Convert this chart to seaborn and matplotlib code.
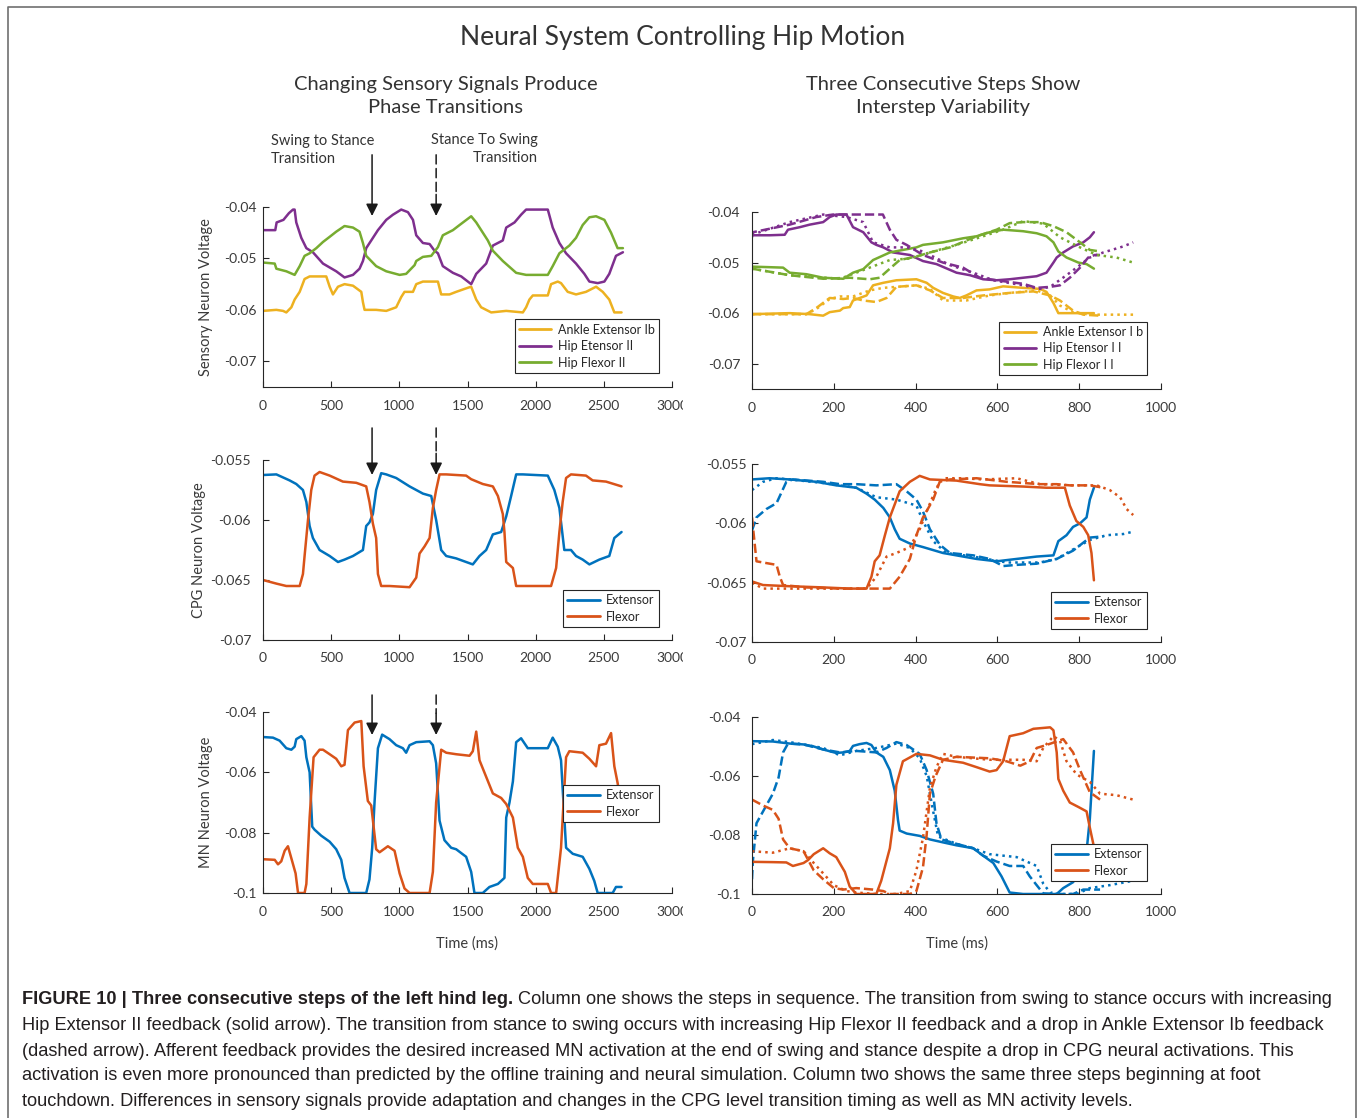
import numpy as np
import matplotlib
matplotlib.use("Agg")
import matplotlib.pyplot as plt
import seaborn as sns
from matplotlib.lines import Line2D
from matplotlib.transforms import Bbox

# --- colores MATLAB ---
C_YEL = "#EDB120"
C_PUR = "#7E2F8E"
C_GRN = "#77AC30"
C_BLU = "#0072BD"
C_ORA = "#D95319"

# ================= DATOS =================
# Columna 1, sensorial
L1_ANKLE = [(0,-0.0602),(98,-0.0600),(147,-0.0602),(171,-0.0605),(208,-0.0595),(232,-0.0580),(269,-0.0565),
            (305,-0.0540),(342,-0.0535),(464,-0.0535),(489,-0.0555),(513,-0.0570),(550,-0.0555),(598,-0.0550),
            (660,-0.0553),(721,-0.0565),(733,-0.0585),(745,-0.0600),(830,-0.0600),(904,-0.0602),(977,-0.0595),
            (1014,-0.0575),(1038,-0.0565),(1100,-0.0565),(1124,-0.0550),(1173,-0.0545),(1283,-0.0545),(1307,-0.0570),
            (1368,-0.0570),(1417,-0.0565),(1503,-0.0557),(1527,-0.0555),(1564,-0.0580),(1600,-0.0595),(1674,-0.0605),
            (1784,-0.0602),(1906,-0.0605),(1930,-0.0595),(1954,-0.0580),(1979,-0.0572),(2089,-0.0572),(2113,-0.0550),
            (2162,-0.0545),(2186,-0.0548),(2235,-0.0565),(2296,-0.0570),(2369,-0.0565),(2443,-0.0555),(2492,-0.0565),
            (2540,-0.0580),(2577,-0.0605),(2630,-0.0605)]
L1_HIPEXT = [(0,-0.0445),(90,-0.0445),(100,-0.0430),(150,-0.0425),(190,-0.0412),(220,-0.0405),(232,-0.0405),
             (244,-0.0430),(281,-0.0460),(318,-0.0480),(366,-0.0488),(440,-0.0510),(537,-0.0525),(598,-0.0537),
             (660,-0.0532),(708,-0.0520),(733,-0.0505),(757,-0.0480),(794,-0.0465),(843,-0.0445),(904,-0.0425),
             (953,-0.0415),(1014,-0.0405),(1063,-0.0410),(1100,-0.0425),(1124,-0.0455),(1173,-0.0470),(1222,-0.0472),
             (1258,-0.0485),(1283,-0.0490),(1319,-0.0515),(1393,-0.0528),(1454,-0.0535),(1527,-0.0550),(1564,-0.0530),
             (1637,-0.0510),(1686,-0.0475),(1759,-0.0465),(1784,-0.0440),(1845,-0.0430),(1893,-0.0415),(1930,-0.0405),
             (2089,-0.0405),(2125,-0.0440),(2174,-0.0470),(2223,-0.0490),(2296,-0.0510),(2357,-0.0530),(2394,-0.0545),
             (2455,-0.0548),(2504,-0.0545),(2540,-0.0530),(2589,-0.0495),(2640,-0.0488)]
L1_HIPFLX = [(0,-0.0508),(86,-0.0510),(98,-0.0520),(171,-0.0525),(232,-0.0532),(269,-0.0515),(305,-0.0495),
             (342,-0.0490),(391,-0.0480),(440,-0.0468),(489,-0.0458),(537,-0.0448),(598,-0.0437),(660,-0.0440),
             (708,-0.0448),(733,-0.0470),(757,-0.0495),(830,-0.0515),(904,-0.0525),(1002,-0.0532),(1050,-0.0530),
             (1112,-0.0513),(1124,-0.0505),(1173,-0.0497),(1234,-0.0495),(1283,-0.0478),(1319,-0.0455),(1393,-0.0445),
             (1442,-0.0435),(1527,-0.0418),(1564,-0.0430),(1649,-0.0465),(1686,-0.0485),(1759,-0.0505),(1857,-0.0528),
             (1930,-0.0532),(2089,-0.0532),(2125,-0.0515),(2174,-0.0490),(2247,-0.0475),(2296,-0.0460),(2345,-0.0435),
             (2394,-0.0420),(2443,-0.0418),(2504,-0.0425),(2553,-0.0450),(2601,-0.0480),(2640,-0.0480)]
# Columna 1, CPG
L2_EXT = [(0,-0.05625),(98,-0.0562),(195,-0.0567),(244,-0.0570),(293,-0.0575),(318,-0.0585),(342,-0.0605),
          (366,-0.0615),(415,-0.0625),(489,-0.0630),(550,-0.0635),(598,-0.0633),(660,-0.0630),(733,-0.0625),
          (757,-0.0605),(781,-0.0602),(806,-0.0595),(830,-0.0575),(867,-0.0561),(904,-0.0562),(977,-0.0565),
          (1075,-0.0572),(1173,-0.0578),(1234,-0.0580),(1270,-0.0600),(1307,-0.0625),(1344,-0.0630),(1417,-0.0632),
          (1490,-0.0635),(1539,-0.0637),(1588,-0.0630),(1637,-0.0625),(1686,-0.0612),(1747,-0.0610),(1784,-0.0597),
          (1820,-0.0580),(1857,-0.0562),(1906,-0.0562),(2089,-0.0563),(2137,-0.0575),(2174,-0.0590),(2210,-0.0625),
          (2259,-0.0625),(2296,-0.0630),(2345,-0.0633),(2394,-0.0637),(2467,-0.0633),(2540,-0.0630),(2577,-0.0615),
          (2630,-0.0610)]
L2_FLX = [(0,-0.0650),(98,-0.0653),(171,-0.0655),(269,-0.0655),(293,-0.0645),(305,-0.0630),(330,-0.0600),
          (354,-0.0575),(378,-0.0563),(415,-0.0560),(489,-0.0563),(586,-0.0568),(684,-0.0569),(757,-0.0572),
          (781,-0.0585),(806,-0.0603),(830,-0.0615),(843,-0.0645),(867,-0.0655),(928,-0.0655),(1075,-0.0656),
          (1124,-0.0648),(1148,-0.0628),(1185,-0.0622),(1222,-0.0615),(1246,-0.0590),(1270,-0.0575),(1295,-0.0562),
          (1344,-0.0562),(1490,-0.0563),(1527,-0.0566),(1612,-0.0570),(1686,-0.0572),(1723,-0.0580),(1759,-0.0595),
          (1771,-0.0610),(1784,-0.0635),(1833,-0.0640),(1857,-0.0655),(1906,-0.0655),(2113,-0.0655),(2150,-0.0640),
          (2174,-0.0610),(2198,-0.0585),(2223,-0.0565),(2259,-0.0562),(2369,-0.0563),(2418,-0.0567),(2516,-0.0568),
          (2630,-0.0572)]
# Columna 1, MN
L3_EXT = [(0,-0.0483),(73,-0.0485),(122,-0.0495),(171,-0.0520),(208,-0.0525),(232,-0.0515),(244,-0.0490),
          (281,-0.0480),(305,-0.0495),(318,-0.0550),(342,-0.0600),(361,-0.0780),(378,-0.0790),(427,-0.0810),
          (489,-0.0830),(537,-0.0855),(574,-0.0890),(598,-0.0950),(635,-0.1000),(757,-0.1000),(781,-0.0955),
          (801,-0.0850),(818,-0.0700),(843,-0.0520),(874,-0.0475),(928,-0.0490),(977,-0.0510),(1026,-0.0520),
          (1050,-0.0535),(1075,-0.0510),(1124,-0.0500),(1222,-0.0497),(1246,-0.0510),(1270,-0.0570),(1295,-0.0760),
          (1331,-0.0825),(1380,-0.0850),(1417,-0.0855),(1490,-0.0880),(1527,-0.0930),(1551,-0.1000),(1612,-0.1000),
          (1661,-0.0980),(1723,-0.0970),(1771,-0.0950),(1784,-0.0750),(1808,-0.0700),(1833,-0.0630),(1857,-0.0500),
          (1893,-0.0487),(1942,-0.0520),(2089,-0.0520),(2125,-0.0485),(2162,-0.0515),(2186,-0.0560),(2223,-0.0850),
          (2272,-0.0870),(2345,-0.0880),(2394,-0.0920),(2430,-0.0960),(2455,-0.1000),(2565,-0.1000),(2589,-0.0980),
          (2630,-0.0980)]
L3_FLX = [(0,-0.0888),(86,-0.0890),(110,-0.0905),(134,-0.0895),(159,-0.0860),(183,-0.0845),(208,-0.0885),
          (239,-0.0935),(257,-0.1000),(305,-0.1000),(318,-0.0970),(342,-0.0750),(371,-0.0550),(415,-0.0525),
          (440,-0.0525),(489,-0.0540),(537,-0.0555),(574,-0.0580),(598,-0.0575),(623,-0.0460),(672,-0.0435),
          (721,-0.0430),(738,-0.0580),(769,-0.0695),(794,-0.0710),(830,-0.0855),(855,-0.0865),(916,-0.0845),
          (965,-0.0860),(1002,-0.0935),(1038,-0.0985),(1075,-0.1000),(1222,-0.1000),(1246,-0.0930),(1270,-0.0700),
          (1307,-0.0525),(1344,-0.0535),(1417,-0.0540),(1515,-0.0545),(1539,-0.0530),(1564,-0.0465),(1588,-0.0560),
          (1637,-0.0615),(1686,-0.0670),(1747,-0.0685),(1784,-0.0705),(1833,-0.0750),(1869,-0.0850),(1906,-0.0880),
          (1942,-0.0950),(1979,-0.0970),(2089,-0.0970),(2113,-0.1000),(2150,-0.1000),(2186,-0.0850),(2223,-0.0550),
          (2247,-0.0530),(2345,-0.0535),(2394,-0.0555),(2443,-0.0580),(2467,-0.0510),(2516,-0.0505),(2553,-0.0470),
          (2577,-0.0580),(2601,-0.0635),(2630,-0.0720)]

# Columna 2, sensorial (continuo / discontinuo / punteado = pasos 1, 2, 3)
R1_ANKLE_A = [(0,-0.0602),(92,-0.0600),(141,-0.0602),(174,-0.0605),(190,-0.0598),(215,-0.0595),(223,-0.0590),
              (239,-0.0588),(247,-0.0575),(280,-0.0565),(296,-0.0545),(321,-0.0540),(353,-0.0535),(402,-0.0533),
              (427,-0.0540),(443,-0.0550),(467,-0.0560),(492,-0.0567),(508,-0.0570),(524,-0.0565),(549,-0.0555),
              (581,-0.0553),(614,-0.0547),(663,-0.0550),(704,-0.0552),(720,-0.0558),(737,-0.0580),(749,-0.0600),
              (836,-0.0600)]
R1_ANKLE_B = [(0,-0.0602),(133,-0.0602),(157,-0.0590),(190,-0.0570),(223,-0.0572),(247,-0.0570),(272,-0.0575),
              (304,-0.0578),(329,-0.0570),(353,-0.0548),(402,-0.0545),(435,-0.0555),(467,-0.0570),(516,-0.0570),
              (565,-0.0565),(630,-0.0560),(688,-0.0557),(729,-0.0565),(753,-0.0575),(785,-0.0595),(810,-0.0603),
              (851,-0.0605)]
R1_ANKLE_C = [(0,-0.0602),(133,-0.0602),(157,-0.0592),(190,-0.0572),(215,-0.0567),(247,-0.0567),(288,-0.0555),
              (321,-0.0550),(402,-0.0545),(435,-0.0552),(467,-0.0575),(524,-0.0575),(581,-0.0565),(630,-0.0560),
              (696,-0.0555),(729,-0.0565),(753,-0.0585),(785,-0.0598),(826,-0.0603),(875,-0.0603),(932,-0.0603)]
R1_HIPEXT_A = [(0,-0.0446),(43,-0.0446),(80,-0.0445),(88,-0.0435),(117,-0.0430),(141,-0.0425),(174,-0.0420),
               (190,-0.0410),(206,-0.0405),(231,-0.0405),(247,-0.0430),(272,-0.0440),(292,-0.0460),(304,-0.0465),
               (321,-0.0470),(345,-0.0480),(386,-0.0485),(418,-0.0497),(451,-0.0503),(500,-0.0520),(533,-0.0525),
               (565,-0.0533),(598,-0.0535),(630,-0.0533),(663,-0.0530),(696,-0.0527),(720,-0.0520),(737,-0.0500),
               (745,-0.0490),(761,-0.0480),(785,-0.0468),(810,-0.0460),(826,-0.0450),(836,-0.0440)]
R1_HIPEXT_B = [(0,-0.0450),(2,-0.0440),(92,-0.0425),(157,-0.0410),(198,-0.0405),(231,-0.0405),(320,-0.0405),
               (337,-0.0435),(353,-0.0455),(378,-0.0465),(418,-0.0485),(467,-0.0500),(516,-0.0510),(557,-0.0530),
               (598,-0.0535),(663,-0.0542),(696,-0.0550),(729,-0.0548),(753,-0.0545),(777,-0.0530),(802,-0.0510),
               (822,-0.0490),(838,-0.0485),(851,-0.0485)]
R1_HIPEXT_C = [(0,-0.0445),(92,-0.0420),(174,-0.0405),(231,-0.0410),(272,-0.0420),(296,-0.0460),(337,-0.0470),
               (378,-0.0470),(418,-0.0478),(484,-0.0505),(541,-0.0520),(590,-0.0535),(663,-0.0545),(704,-0.0552),
               (729,-0.0548),(769,-0.0525),(802,-0.0505),(826,-0.0490),(859,-0.0480),(908,-0.0468),(932,-0.0460)]
R1_HIPFLX_A = [(0,-0.0508),(76,-0.0510),(92,-0.0520),(133,-0.0523),(174,-0.0530),(223,-0.0532),(247,-0.0520),
               (272,-0.0513),(296,-0.0495),(337,-0.0480),(369,-0.0475),(402,-0.0470),(418,-0.0465),(467,-0.0460),
               (516,-0.0452),(549,-0.0448),(581,-0.0440),(614,-0.0435),(663,-0.0438),(696,-0.0442),(720,-0.0448),
               (737,-0.0460),(749,-0.0478),(769,-0.0490),(798,-0.0500),(818,-0.0503),(836,-0.0512)]
R1_HIPFLX_B = [(0,-0.0512),(92,-0.0525),(174,-0.0532),(239,-0.0530),(288,-0.0533),(312,-0.0530),(337,-0.0512),
               (361,-0.0495),(402,-0.0488),(435,-0.0480),(484,-0.0470),(549,-0.0448),(598,-0.0435),(630,-0.0422),
               (663,-0.0420),(704,-0.0420),(737,-0.0428),(769,-0.0440),(802,-0.0460),(826,-0.0475),(851,-0.0478)]
R1_HIPFLX_C = [(0,-0.0512),(92,-0.0525),(215,-0.0532),(255,-0.0520),(304,-0.0505),(337,-0.0495),(386,-0.0492),
               (435,-0.0480),(500,-0.0465),(565,-0.0448),(614,-0.0435),(663,-0.0418),(712,-0.0423),(753,-0.0450),
               (802,-0.0470),(843,-0.0485),(891,-0.0490),(932,-0.0500)]
# Columna 2, CPG
R2_EXT_A = [(0,-0.0563),(43,-0.0562),(92,-0.0563),(157,-0.0565),(206,-0.0568),(255,-0.0570),(280,-0.0575),
            (300,-0.0580),(321,-0.0587),(337,-0.0595),(349,-0.0605),(361,-0.0613),(386,-0.0617),(418,-0.0620),
            (467,-0.0625),(500,-0.0627),(549,-0.0630),(598,-0.0632),(647,-0.0630),(696,-0.0628),(737,-0.0627),
            (749,-0.0615),(769,-0.0610),(785,-0.0603),(802,-0.0600),(818,-0.0595),(826,-0.0580),(836,-0.0570)]
R2_EXT_B = [(0,-0.0606),(11,-0.0595),(35,-0.0588),(60,-0.0583),(84,-0.0565),(100,-0.0563),(174,-0.0565),
            (215,-0.0567),(255,-0.0567),(304,-0.0568),(353,-0.0567),(378,-0.0573),(402,-0.0580),(418,-0.0590),
            (435,-0.0605),(459,-0.0618),(484,-0.0625),(541,-0.0627),(581,-0.0630),(614,-0.0636),(647,-0.0635),
            (696,-0.0634),(745,-0.0630),(785,-0.0623),(826,-0.0612),(859,-0.0611)]
R2_EXT_C = [(0,-0.0572),(27,-0.0565),(60,-0.0562),(92,-0.0563),(174,-0.0566),(255,-0.0570),(304,-0.0578),
            (353,-0.0580),(402,-0.0585),(418,-0.0598),(443,-0.0615),(475,-0.0625),(541,-0.0628),(623,-0.0633),
            (704,-0.0633),(745,-0.0630),(785,-0.0622),(826,-0.0614),(867,-0.0610),(908,-0.0609),(932,-0.0607)]
R2_FLX_A = [(0,-0.0649),(27,-0.0652),(92,-0.0653),(174,-0.0654),(239,-0.0655),(280,-0.0655),(292,-0.0645),
            (300,-0.0632),(312,-0.0627),(325,-0.0610),(337,-0.0595),(361,-0.0573),(386,-0.0565),(410,-0.0560),
            (435,-0.0563),(500,-0.0564),(557,-0.0567),(581,-0.0568),(663,-0.0569),(720,-0.0570),(765,-0.0570),
            (777,-0.0585),(793,-0.0598),(810,-0.0603),(822,-0.0610),(830,-0.0625),(836,-0.0648)]
R2_FLX_B = [(0,-0.0595),(2,-0.0602),(11,-0.0632),(27,-0.0633),(60,-0.0635),(68,-0.0645),(76,-0.0652),
            (133,-0.0654),(215,-0.0655),(296,-0.0655),(337,-0.0655),(361,-0.0645),(386,-0.0630),(402,-0.0610),
            (418,-0.0595),(443,-0.0580),(459,-0.0565),(484,-0.0563),(549,-0.0562),(623,-0.0565),(663,-0.0566),
            (704,-0.0567),(745,-0.0567),(777,-0.0568),(826,-0.0568),(859,-0.0570)]
R2_FLX_C = [(0,-0.0650),(27,-0.0655),(92,-0.0655),(215,-0.0655),(280,-0.0655),(304,-0.0645),(329,-0.0628),
            (353,-0.0625),(386,-0.0620),(410,-0.0605),(427,-0.0590),(451,-0.0570),(467,-0.0562),(516,-0.0562),
            (565,-0.0563),(647,-0.0562),(704,-0.0567),(785,-0.0568),(843,-0.0568),(875,-0.0572),(900,-0.0578),
            (916,-0.0588),(932,-0.0593)]
# Columna 2, MN
R3_EXT_A = [(0,-0.0482),(51,-0.0483),(92,-0.0490),(126,-0.0493),(151,-0.0500),(174,-0.0510),(206,-0.0522),
            (223,-0.0520),(239,-0.0515),(247,-0.0498),(263,-0.0492),(280,-0.0488),(292,-0.0495),(304,-0.0520),
            (321,-0.0535),(337,-0.0580),(349,-0.0650),(357,-0.0750),(361,-0.0785),(378,-0.0795),(410,-0.0803),
            (435,-0.0815),(467,-0.0825),(500,-0.0835),(541,-0.0845),(565,-0.0870),(590,-0.0895),(610,-0.0940),
            (630,-0.0995),(663,-0.1000),(745,-0.1000),(761,-0.0980),(785,-0.0960),(802,-0.0925),(818,-0.0855),
            (826,-0.0745),(836,-0.0515)]
R3_EXT_B = [(0,-0.0950),(2,-0.0890),(11,-0.0760),(27,-0.0720),(51,-0.0660),(65,-0.0605),(76,-0.0520),
            (88,-0.0490),(126,-0.0493),(174,-0.0510),(215,-0.0520),(255,-0.0515),(304,-0.0520),(329,-0.0505),
            (353,-0.0485),(378,-0.0495),(410,-0.0525),(427,-0.0580),(443,-0.0660),(451,-0.0760),(463,-0.0815),
            (500,-0.0830),(541,-0.0845),(565,-0.0870),(598,-0.0890),(630,-0.0905),(663,-0.0905),(679,-0.0940),
            (696,-0.0970),(712,-0.0998),(745,-0.1000),(785,-0.1000),(810,-0.0985),(851,-0.0985)]
R3_EXT_C = [(0,-0.0492),(27,-0.0485),(51,-0.0478),(92,-0.0485),(174,-0.0505),(215,-0.0530),(255,-0.0515),
            (304,-0.0505),(353,-0.0490),(386,-0.0505),(410,-0.0540),(427,-0.0600),(443,-0.0720),(455,-0.0805),
            (500,-0.0830),(541,-0.0845),(581,-0.0865),(647,-0.0875),(696,-0.0905),(712,-0.0965),(729,-0.0995),
            (761,-0.1000),(794,-0.1000),(826,-0.0980),(875,-0.0970),(932,-0.0955)]
R3_FLX_A = [(0,-0.0891),(51,-0.0892),(84,-0.0893),(100,-0.0905),(126,-0.0895),(137,-0.0885),(151,-0.0865),
            (174,-0.0845),(190,-0.0862),(206,-0.0875),(227,-0.0925),(239,-0.0975),(255,-0.1000),(304,-0.1000),
            (316,-0.0955),(337,-0.0845),(345,-0.0760),(353,-0.0630),(369,-0.0550),(402,-0.0525),(435,-0.0530),
            (467,-0.0545),(516,-0.0555),(549,-0.0570),(581,-0.0585),(598,-0.0580),(614,-0.0550),(630,-0.0465),
            (663,-0.0455),(688,-0.0440),(729,-0.0435),(737,-0.0445),(745,-0.0520),(749,-0.0610),(761,-0.0650),
            (777,-0.0690),(798,-0.0705),(818,-0.0720),(826,-0.0775),(836,-0.0840)]
R3_FLX_B = [(0,-0.0680),(27,-0.0700),(51,-0.0715),(65,-0.0745),(76,-0.0815),(92,-0.0845),(126,-0.0855),
            (151,-0.0920),(174,-0.0950),(200,-0.0980),(223,-0.0985),(255,-0.0980),(296,-0.0985),(321,-0.0990),
            (337,-0.1000),(386,-0.1000),(402,-0.0990),(418,-0.0910),(427,-0.0800),(435,-0.0660),(449,-0.0600),
            (467,-0.0545),(500,-0.0535),(581,-0.0540),(622,-0.0550),(656,-0.0565),(680,-0.0550),(696,-0.0505),
            (720,-0.0495),(761,-0.0475),(785,-0.0520),(802,-0.0580),(826,-0.0655),(851,-0.0680)]
R3_FLX_C = [(0,-0.0855),(51,-0.0860),(92,-0.0845),(126,-0.0855),(151,-0.0895),(174,-0.0930),(200,-0.0970),
            (231,-0.0990),(255,-0.0995),(304,-0.1000),(353,-0.1000),(386,-0.0990),(402,-0.0920),(418,-0.0810),
            (435,-0.0640),(451,-0.0570),(467,-0.0525),(500,-0.0535),(581,-0.0545),(663,-0.0545),(696,-0.0550),
            (712,-0.0505),(737,-0.0465),(753,-0.0480),(769,-0.0550),(794,-0.0595),(826,-0.0620),(851,-0.0660),
            (891,-0.0665),(932,-0.0680)]

# ejes y textos
X_TICKS_L = [0, 500, 1000, 1500, 2000, 2500, 3000]
X_TICKS_R = [0, 200, 400, 600, 800, 1000]
Y_TICKS_SENS = [-0.07, -0.06, -0.05, -0.04]
Y_LABELS_SENS = ["-0.07", "-0.06", "-0.05", "-0.04"]
Y_TICKS_CPG = [-0.07, -0.065, -0.06, -0.055]
Y_LABELS_CPG = ["-0.07", "-0.065", "-0.06", "-0.055"]
Y_TICKS_MN = [-0.1, -0.08, -0.06, -0.04]
Y_LABELS_MN = ["-0.1", "-0.08", "-0.06", "-0.04"]
LEG_SENS_L = ["Ankle Extensor Ib", "Hip Etensor II", "Hip Flexor II"]
LEG_SENS_R = ["Ankle Extensor I b", "Hip Etensor I I", "Hip Flexor I I"]
LEG_CPG = ["Extensor", "Flexor"]

CAP_BOLD = "FIGURE 10 | Three consecutive steps of the left hind leg."
CAP_LINES = [
    "Column one shows the steps in sequence. The transition from swing to stance occurs with increasing",
    "Hip Extensor II feedback (solid arrow). The transition from stance to swing occurs with increasing Hip Flexor II feedback and a drop in Ankle Extensor Ib feedback",
    "(dashed arrow). Afferent feedback provides the desired increased MN activation at the end of swing and stance despite a drop in CPG neural activations. This",
    "activation is even more pronounced than predicted by the offline training and neural simulation. Column two shows the same three steps beginning at foot",
    "touchdown. Differences in sensory signals provide adaptation and changes in the CPG level transition timing as well as MN activity levels.",
]

# ================= FIGURA =================
sns.set_style("ticks")
plt.rcParams['font.family'] = ['Lato', 'DejaVu Sans']
plt.rcParams['axes.unicode_minus'] = False
plt.rcParams['xtick.direction'] = 'in'
plt.rcParams['ytick.direction'] = 'in'

W, H = 1360, 1118
fig = plt.figure(figsize=(W / 100, H / 100), dpi=100)
AXC = "#262626"


def px_axes(l, t, r, b):
    return fig.add_axes([l / W, 1 - b / H, (r - l) / W, (b - t) / H])


def draw(ax, pts, color, ls="-"):
    a = np.array(pts)
    sns.lineplot(x=a[:, 0], y=a[:, 1], ax=ax, color=color, linestyle=ls, lw=1.8,
                 sort=False, estimator=None, legend=False)


def style(ax, xticks, ylim, yticks, ylabels, ypad, ylab=None, ylab_x=None, xlab=False):
    ax.set_xlim(xticks[0], xticks[-1])
    ax.set_ylim(*ylim)
    ax.set_xticks(xticks)
    ax.set_xticklabels([str(t) for t in xticks])
    ax.set_yticks(yticks)
    ax.set_yticklabels(ylabels)
    sns.despine(ax=ax)
    for s in ("left", "bottom"):
        ax.spines[s].set_color(AXC)
        ax.spines[s].set_linewidth(0.8)
    ax.tick_params(axis="both", colors=AXC, labelcolor="#3a3a3a", labelsize=10,
                   length=4, width=0.8)
    ax.tick_params(axis="y", pad=ypad)
    ax.tick_params(axis="x", pad=9)
    ax.set_xlabel("")
    ax.set_ylabel("")
    if ylab:
        ax.set_ylabel(ylab, fontsize=10.5, color="#3a3a3a")
        ax.yaxis.set_label_coords(ylab_x, 0.5)
    if xlab:
        ax.set_xlabel("Time (ms)", fontsize=10.5, color="#3a3a3a")
        ax.xaxis.set_label_coords(0.5, -0.242)


def legend(ax, labels, colors, anchor):
    handles = [Line2D([0], [0], color=c, lw=2) for c in colors]
    lg = ax.legend(handles, labels, loc="lower right", bbox_to_anchor=anchor,
                   borderaxespad=0, fontsize=9, frameon=True, fancybox=False,
                   handlelength=2.6, handletextpad=0.5, labelspacing=0.35,
                   borderpad=0.35, framealpha=1)
    lg.get_frame().set_edgecolor(AXC)
    lg.get_frame().set_linewidth(0.8)
    for t in lg.get_texts():
        t.set_color("#262626")


# --- columna 1 ---
ax1 = px_axes(263, 207, 672, 387)
draw(ax1, L1_ANKLE, C_YEL)
draw(ax1, L1_HIPEXT, C_PUR)
draw(ax1, L1_HIPFLX, C_GRN)
style(ax1, X_TICKS_L, (-0.075, -0.04), Y_TICKS_SENS, Y_LABELS_SENS, 4.8,
      "Sensory Neuron Voltage", (213 - 263) / 409)
legend(ax1, LEG_SENS_L, [C_YEL, C_PUR, C_GRN], (0.968, 0.078))

ax2 = px_axes(263, 460, 672, 640)
draw(ax2, L2_EXT, C_BLU)
draw(ax2, L2_FLX, C_ORA)
style(ax2, X_TICKS_L, (-0.07, -0.055), Y_TICKS_CPG, Y_LABELS_CPG, 8.6,
      "CPG Neuron Voltage", (206 - 263) / 409)
legend(ax2, LEG_CPG, [C_BLU, C_ORA], (0.968, 0.072))

ax3 = px_axes(263, 712, 672, 893)
draw(ax3, L3_EXT, C_BLU)
draw(ax3, L3_FLX, C_ORA)
style(ax3, X_TICKS_L, (-0.1, -0.04), Y_TICKS_MN, Y_LABELS_MN, 4.8,
      "MN Neuron Voltage", (213 - 263) / 409, xlab=True)
legend(ax3, LEG_CPG, [C_BLU, C_ORA], (0.968, 0.392))

# --- columna 2 ---
ax4 = px_axes(752, 212, 1161, 389)
for pts, c in [(R1_ANKLE_A, C_YEL), (R1_HIPEXT_A, C_PUR), (R1_HIPFLX_A, C_GRN)]:
    draw(ax4, pts, c, "-")
for pts, c in [(R1_ANKLE_B, C_YEL), (R1_HIPEXT_B, C_PUR), (R1_HIPFLX_B, C_GRN)]:
    draw(ax4, pts, c, "--")
for pts, c in [(R1_ANKLE_C, C_YEL), (R1_HIPEXT_C, C_PUR), (R1_HIPFLX_C, C_GRN)]:
    draw(ax4, pts, c, ":")
style(ax4, X_TICKS_R, (-0.075, -0.04), Y_TICKS_SENS, Y_LABELS_SENS, 8.6)
legend(ax4, LEG_SENS_R, [C_YEL, C_PUR, C_GRN], (0.966, 0.079))

ax5 = px_axes(752, 464, 1161, 642)
for pts, ls in [(R2_EXT_A, "-"), (R2_EXT_B, "--"), (R2_EXT_C, ":")]:
    draw(ax5, pts, C_BLU, ls)
for pts, ls in [(R2_FLX_A, "-"), (R2_FLX_B, "--"), (R2_FLX_C, ":")]:
    draw(ax5, pts, C_ORA, ls)
style(ax5, X_TICKS_R, (-0.07, -0.055), Y_TICKS_CPG, Y_LABELS_CPG, 4.1)
legend(ax5, LEG_CPG, [C_BLU, C_ORA], (0.966, 0.073))

ax6 = px_axes(752, 717, 1161, 894)
for pts, ls in [(R3_EXT_A, "-"), (R3_EXT_B, "--"), (R3_EXT_C, ":")]:
    draw(ax6, pts, C_BLU, ls)
for pts, ls in [(R3_FLX_A, "-"), (R3_FLX_B, "--"), (R3_FLX_C, ":")]:
    draw(ax6, pts, C_ORA, ls)
style(ax6, X_TICKS_R, (-0.1, -0.04), Y_TICKS_MN, Y_LABELS_MN, 8.4, xlab=True)
legend(ax6, LEG_CPG, [C_BLU, C_ORA], (0.966, 0.073))

# etiqueta "3000" recortada como en el original
clip = Bbox([[0, 0], [683, H]])
for ax in (ax1, ax2, ax3):
    for lab in ax.get_xticklabels():
        lab.set_clip_box(clip)
        lab.set_clip_on(True)

# --- flechas de transición ---
for ax, (tip, tail) in zip((ax1, ax2, ax3), [(0.95, 1.29), (0.917, 1.178), (0.873, 1.094)]):
    ax.annotate("", xy=(800, tip), xycoords=("data", "axes fraction"),
                xytext=(800, tail), textcoords=("data", "axes fraction"),
                arrowprops=dict(arrowstyle="-|>", color="#1a1a1a", lw=1.1, mutation_scale=18,
                                shrinkA=0, shrinkB=0), annotation_clip=False)
    ax.annotate("", xy=(1270, tip + 0.12), xycoords=("data", "axes fraction"),
                xytext=(1270, tail), textcoords=("data", "axes fraction"),
                arrowprops=dict(arrowstyle="-", color="#1a1a1a", lw=1.1, linestyle=(0, (6, 3)),
                                shrinkA=0, shrinkB=0), annotation_clip=False)
    ax.annotate("", xy=(1270, tip), xycoords=("data", "axes fraction"),
                xytext=(1270, tip + 0.12), textcoords=("data", "axes fraction"),
                arrowprops=dict(arrowstyle="-|>", color="#1a1a1a", lw=1.1, mutation_scale=18,
                                shrinkA=0, shrinkB=0), annotation_clip=False)

# --- títulos ---
TXT = "#333333"
fig.text(683 / W, 1 - 37 / H, "Neural System Controlling Hip Motion", ha="center", va="center",
         fontsize=19, color=TXT)
fig.text(446 / W, 1 - 96 / H, "Changing Sensory Signals Produce\nPhase Transitions", ha="center",
         va="center", fontsize=14.5, color=TXT, linespacing=1.4)
fig.text(943 / W, 1 - 96 / H, "Three Consecutive Steps Show\nInterstep Variability", ha="center",
         va="center", fontsize=14.5, color=TXT, linespacing=1.4)
fig.text(271 / W, 1 - 150 / H, "Swing to Stance\nTransition", ha="left", va="center",
         fontsize=10.5, color=TXT, linespacing=1.3)
fig.text(538 / W, 1 - 149 / H, "Stance To Swing\nTransition", ha="right", va="center",
         multialignment="right", fontsize=10.5, color=TXT, linespacing=1.3)

# --- marco ---
fig.add_artist(Line2D([7.5 / W, 7.5 / W, 1356 / W, 1356 / W], [0, 1 - 7 / H, 1 - 7 / H, 0],
                      transform=fig.transFigure, color="#707070", lw=1.2))

# --- pie de figura ---
CAP_FAM = ["Liberation Sans Narrow", "Liberation Sans", "DejaVu Sans"]
CAP_COL = "#231f20"
ys = [1000, 1025, 1051, 1076, 1102]
renderer = fig.canvas.get_renderer()
fs = 12
tb = fig.text(22 / W, 1 - ys[0] / H, CAP_BOLD, fontsize=fs, weight="bold", family=CAP_FAM,
              va="center", color=CAP_COL)
tr = fig.text(0, 1 - ys[0] / H, CAP_LINES[0], fontsize=fs, family=CAP_FAM, va="center", color=CAP_COL)
# ajustar el tamaño para que la primera línea ocupe el ancho del original
for _ in range(3):
    gap = 0.28 * fs * 100 / 72
    wb = tb.get_window_extent(renderer).width
    wr = tr.get_window_extent(renderer).width
    fs = fs * 1313 / (wb + wr + gap)
    tb.set_fontsize(fs)
    tr.set_fontsize(fs)
gap = 0.28 * fs * 100 / 72
wb = tb.get_window_extent(renderer).width
tr.set_x((22 + wb + gap) / W)
for line, y in zip(CAP_LINES[1:], ys[1:]):
    fig.text(22 / W, 1 - y / H, line, fontsize=fs, family=CAP_FAM, va="center", color=CAP_COL)

fig.savefig("out.png", dpi=100)
